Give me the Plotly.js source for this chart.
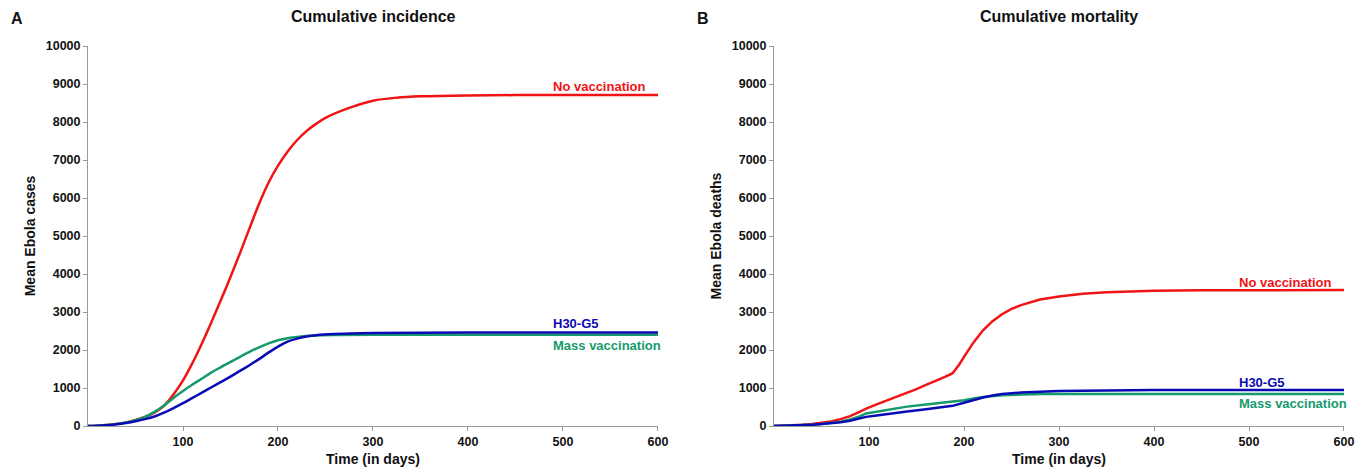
<!DOCTYPE html>
<html>
<head>
<meta charset="utf-8">
<script src="https://cdn.plot.ly/plotly-3.0.1.min.js"></script>
<style>html,body{margin:0;padding:0;background:#fff;}#chart{width:1369px;height:469px;}</style>
</head>
<body>
<div id="chart"></div>
<script>
// ---- Panel A: cumulative incidence ----
const daysNoVacA = [0,10,20,30,40,50,60,70,80,90,100,110,120,130,140,150,160,170,180,190,200,210,220,230,240,250,275,300,325,350,400,450,500,600];
const incNoVac   = [0,8,25,50,95,160,240,350,530,830,1200,1660,2180,2740,3320,3920,4550,5200,5840,6400,6850,7220,7520,7760,7950,8110,8370,8560,8640,8675,8700,8708,8710,8712];

const daysH30A = [0,10,20,30,40,50,60,70,80,90,100,110,120,130,140,150,160,170,180,190,200,210,220,230,240,260,300,400,600];
const incH30   = [0,8,22,45,80,125,180,250,350,470,600,740,880,1020,1160,1300,1450,1600,1760,1930,2090,2220,2300,2355,2390,2420,2445,2460,2462];

const daysMassA = [0,10,20,30,40,50,60,70,80,90,100,110,120,130,140,150,160,170,180,190,200,210,220,240,260,300,600];
const incMass   = [0,8,25,50,90,150,240,370,540,740,920,1090,1250,1410,1550,1690,1820,1950,2070,2175,2255,2310,2345,2380,2393,2400,2400];

// ---- Panel B: cumulative mortality ----
const daysNoVacB = [0,10,20,30,40,50,60,70,80,90,97,110,120,130,140,150,160,170,180,188,195,200,210,220,230,240,250,260,270,280,300,325,350,400,450,500,600];
const mortNoVac  = [0,5,15,30,50,80,120,180,260,370,460,590,680,770,870,970,1080,1180,1290,1390,1620,1820,2200,2520,2760,2940,3080,3180,3260,3330,3410,3480,3520,3560,3570,3575,3580];

const daysH30B = [0,10,20,30,40,50,60,70,80,90,97,110,120,140,160,180,188,200,210,220,230,240,260,280,300,350,400,600];
const mortH30  = [0,4,12,22,35,52,72,98,140,195,240,285,320,380,440,500,530,610,690,750,800,840,880,905,920,935,945,947];

const daysMassB = [0,10,20,30,40,50,60,70,80,90,97,110,120,140,160,180,188,200,210,220,240,260,280,300,600];
const mortMass  = [0,4,12,22,35,53,76,110,170,250,330,390,430,510,565,615,640,680,725,765,810,830,840,842,842];

const xTicks = [100,200,300,400,500,600];
const seriesNames = ['No vaccination','H30-G5','Mass vaccination'];
const colRed = '#f01414', colBlue = '#0a0ab4', colGreen = '#169a6c';

const lw = 2.5;
const smoothA = {shape:'spline', smoothing:1};
const traces = [
  {x: daysNoVacA, y: incNoVac, name: seriesNames[0], line:Object.assign({color:colRed, width:lw}, smoothA), xaxis:'x', yaxis:'y'},
  {x: daysMassA, y: incMass, name: seriesNames[2], line:Object.assign({color:colGreen, width:lw}, smoothA), xaxis:'x', yaxis:'y'},
  {x: daysH30A, y: incH30, name: seriesNames[1], line:Object.assign({color:colBlue, width:lw}, smoothA), xaxis:'x', yaxis:'y'},
  {x: daysNoVacB, y: mortNoVac, name: seriesNames[0], line:{color:colRed, width:lw}, xaxis:'x2', yaxis:'y2'},
  {x: daysMassB, y: mortMass, name: seriesNames[2], line:{color:colGreen, width:lw}, xaxis:'x2', yaxis:'y2'},
  {x: daysH30B, y: mortH30, name: seriesNames[1], line:{color:colBlue, width:lw}, xaxis:'x2', yaxis:'y2'}
].map(t => Object.assign({type:'scatter', mode:'lines', hoverinfo:'skip'}, t));

const FF = 'Liberation Sans, Arial, sans-serif';
const tickFont = {family:FF, size:12.5, color:'#111', weight:'bold'};
const titleFont = {family:FF, size:14, color:'#111', weight:'bold'};
function xax(domain, anchor){
  return {domain, anchor, range:[0,600], tickvals:xTicks, ticks:'outside', ticklen:4, tickcolor:'#999',
    showline:true, linecolor:'#999', linewidth:1, showgrid:false, zeroline:false,
    tickfont:tickFont,
    title:{text:'Time (in days)', font:titleFont, standoff:6}};
}
function yax(anchor, title){
  return {domain:[0,1], anchor, range:[0,10000], dtick:1000, tickformat:'d', ticks:'outside', ticklen:4, tickcolor:'#999',
    showline:true, linecolor:'#999', linewidth:1, showgrid:false, zeroline:false,
    tickfont:tickFont,
    title:{text:title, font:titleFont, standoff:6}};
}
const annFont = (c) => ({family:FF, size:13, color:c, weight:'bold'});
function lbl(xref, yref, y, text, c){
  return {xref, yref, x:487, y, text, showarrow:false, xanchor:'left', yanchor:'middle', font:annFont(c)};
}
const layout = {
  width:1369, height:469,
  margin:{l:88, r:25, t:46, b:43},
  paper_bgcolor:'#fff', plot_bgcolor:'#fff',
  showlegend:false,
  xaxis: xax([0,0.4538],'y'),
  yaxis: yax('x','Mean Ebola cases'),
  xaxis2: xax([0.5462,1],'y2'),
  yaxis2: yax('x2','Mean Ebola deaths'),
  annotations:[
    lbl('x','y',8930,seriesNames[0],colRed),
    lbl('x','y',2690,seriesNames[1],colBlue),
    lbl('x','y',2130,seriesNames[2],colGreen),
    lbl('x2','y2',3770,seriesNames[0],colRed),
    lbl('x2','y2',1135,seriesNames[1],colBlue),
    lbl('x2','y2',605,seriesNames[2],colGreen),
    {xref:'paper', yref:'paper', x:(373-88)/1256, y:1, yshift:30, text:'Cumulative incidence', showarrow:false, xanchor:'center', yanchor:'middle', font:{family:FF, size:16, color:'#111', weight:'bold'}},
    {xref:'paper', yref:'paper', x:(1059-88)/1256, y:1, yshift:30, text:'Cumulative mortality', showarrow:false, xanchor:'center', yanchor:'middle', font:{family:FF, size:16, color:'#111', weight:'bold'}},
    {xref:'paper', yref:'paper', x:(17-88)/1256, y:1, yshift:28, text:'A', showarrow:false, xanchor:'center', yanchor:'middle', font:{family:FF, size:16, color:'#111', weight:'bold'}},
    {xref:'paper', yref:'paper', x:(703-88)/1256, y:1, yshift:28, text:'B', showarrow:false, xanchor:'center', yanchor:'middle', font:{family:FF, size:16, color:'#111', weight:'bold'}}
  ]
};
Plotly.newPlot('chart', traces, layout, {staticPlot:true, displayModeBar:false});
</script>
</body>
</html>
